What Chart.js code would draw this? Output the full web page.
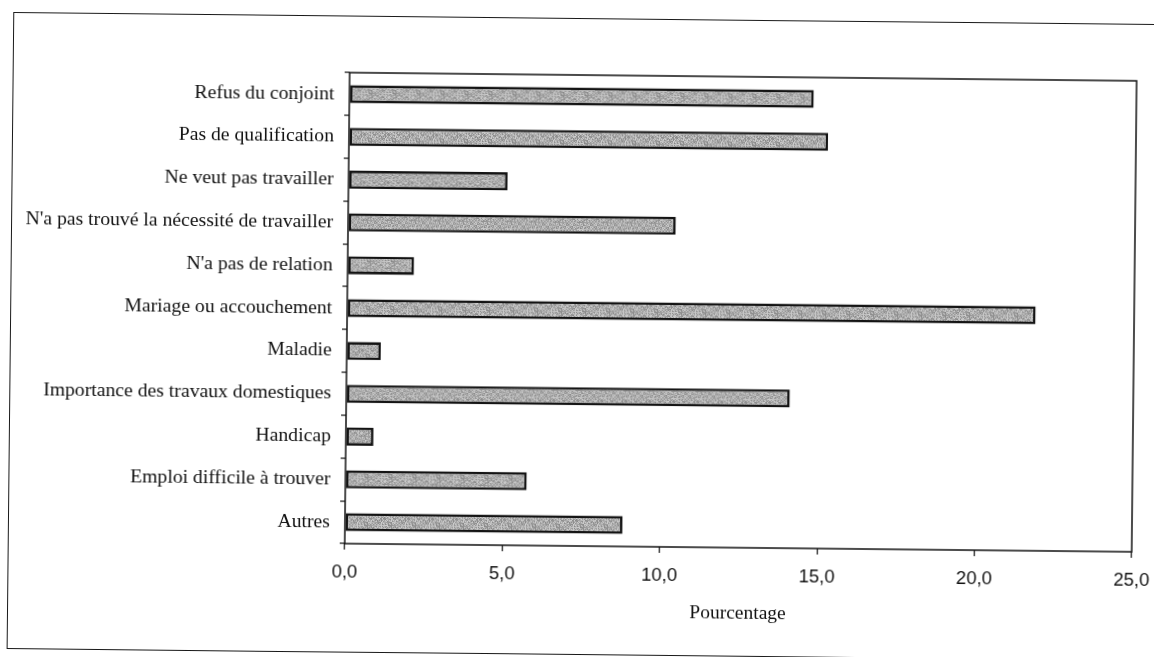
<!DOCTYPE html>
<html lang="fr">
<head>
<meta charset="utf-8">
<title>Raisons de l'inactivité</title>
<script src="https://cdn.jsdelivr.net/npm/chart.js@4.4.1/dist/chart.umd.min.js"></script>
<style>
  html, body { margin: 0; padding: 0; background: #fff; overflow: hidden; }
  #page {
    position: absolute; left: 0; top: 0; width: 1154px; height: 657px;
    transform: rotate(0.6deg); transform-origin: 577px 328px;
  }
  #frame {
    position: absolute; left: 10px; top: 18px; width: 1300px; height: 637px;
    border: 1.5px solid #1a1a1a; box-sizing: border-box;
  }
  #chart { position: absolute; left: 0; top: 0; }
</style>
</head>
<body>
<div id="page">
  <div id="frame"></div>
  <canvas id="chart" width="1154" height="657"></canvas>
</div>
<script>
// Raisons invoquées (de haut en bas) et pourcentages correspondants
const categories = [
  "Refus du conjoint",
  "Pas de qualification",
  "Ne veut pas travailler",
  "N'a pas trouvé la nécessité de travailler",
  "N'a pas de relation",
  "Mariage ou accouchement",
  "Maladie",
  "Importance des travaux domestiques",
  "Handicap",
  "Emploi difficile à trouver",
  "Autres"
];
const percentages = [14.75, 15.22, 5.05, 10.41, 2.11, 21.87, 1.08, 14.09, 0.88, 5.76, 8.82];
const xTickValues = [0, 5, 10, 15, 20, 25];
const xTitle = "Pourcentage";

// Trame grise mouchetée pour le remplissage des barres
function makeStipple() {
  const size = 24;
  const c = document.createElement('canvas');
  c.width = size; c.height = size;
  const g = c.getContext('2d');
  for (let y = 0; y < size; y++) {
    for (let x = 0; x < size; x++) {
      const h = ((x * 73 + y * 151 + x * y * 29) % 41) / 40;  // motif fixe, sans hasard
      const v = Math.round(0x86 + h * 0x4c);
      g.fillStyle = 'rgb(' + v + ',' + v + ',' + v + ')';
      g.fillRect(x, y, 1, 1);
    }
  }
  return document.getElementById('chart').getContext('2d').createPattern(c, 'repeat');
}

// Cadre noir autour de la zone de tracé
const plotFrame = {
  id: 'plotFrame',
  afterDatasetsDraw(chart) {
    const { ctx, chartArea: a } = chart;
    ctx.save();
    ctx.strokeStyle = '#111';
    ctx.lineWidth = 1.5;
    ctx.strokeRect(a.left, a.top, a.right - a.left, a.bottom - a.top);
    ctx.restore();
  }
};

const fmt = v => Number(v).toFixed(1).replace('.', ',');

new Chart(document.getElementById('chart'), {
  type: 'bar',
  data: {
    labels: categories,
    datasets: [{
      data: percentages,
      backgroundColor: makeStipple(),
      borderColor: '#141414',
      borderWidth: 2.6,
      borderSkipped: false,
      categoryPercentage: 1,
      barPercentage: 0.42
    }]
  },
  options: {
    indexAxis: 'y',
    responsive: false,
    animation: false,
    events: [],
    layout: { padding: { left: 0, top: 75, right: 20, bottom: 0 } },
    plugins: { legend: { display: false }, tooltip: { enabled: false } },
    scales: {
      x: {
        min: 0, max: 25,
        afterBuildTicks(scale) { scale.ticks = xTickValues.map(v => ({ value: v })); },
        afterFit(scale) { scale.height = 111; scale.paddingLeft = 0; scale.paddingRight = 0; },
        border: { display: false },
        grid: { drawOnChartArea: false, drawTicks: true, tickLength: 6, color: '#111', lineWidth: 1.2 },
        ticks: {
          callback: v => fmt(v),
          color: '#111',
          padding: 12,
          maxRotation: 0,
          font: { family: '"Liberation Sans", Arial, sans-serif', size: 18.5 }
        },
        title: {
          display: true,
          text: xTitle,
          color: '#111',
          padding: { top: 4, bottom: 33 },
          font: { family: '"Liberation Serif", "Times New Roman", serif', size: 19.5 }
        }
      },
      y: {
        afterFit(scale) { scale.width = 347; scale.paddingTop = 0; scale.paddingBottom = 0; },
        border: { display: false },
        grid: { offset: true, drawOnChartArea: false, drawTicks: true, tickLength: 5, color: '#111', lineWidth: 1.2 },
        ticks: {
          color: '#111',
          padding: 10,
          autoSkip: false,
          font: { family: '"Liberation Serif", "Times New Roman", serif', size: 19.7 }
        }
      }
    }
  },
  plugins: [plotFrame]
});
</script>
</body>
</html>
